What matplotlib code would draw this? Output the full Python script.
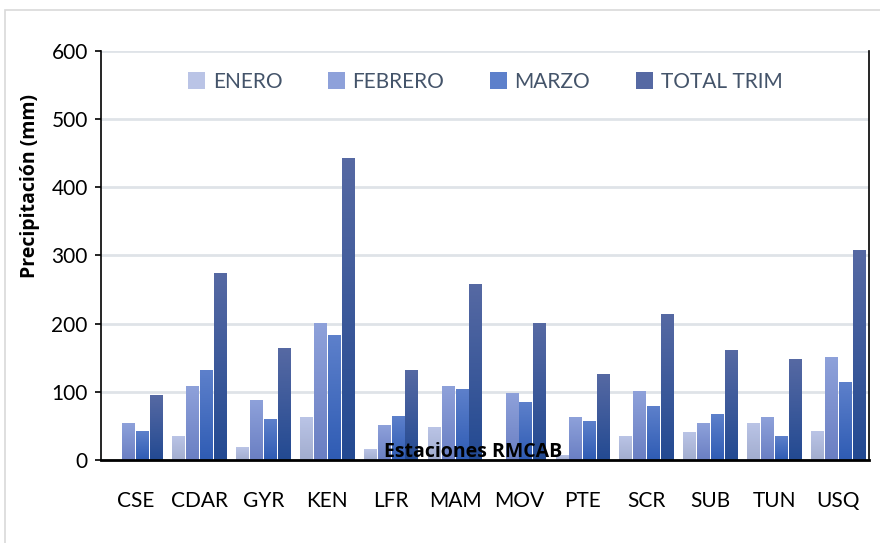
import matplotlib.pyplot as plt
import numpy as np
from matplotlib.colors import LinearSegmentedColormap
from matplotlib.patches import Rectangle

# Datos
estaciones = ['CSE', 'CDAR', 'GYR', 'KEN', 'LFR', 'MAM', 'MOV', 'PTE', 'SCR', 'SUB', 'TUN', 'USQ']
enero = [0, 34, 18, 63, 16, 47, 0, 6, 35, 41, 53, 42]
febrero = [53, 108, 88, 200, 51, 108, 98, 62, 100, 54, 63, 151]
marzo = [42, 131, 59, 182, 64, 103, 85, 57, 78, 67, 34, 113]
total_trim = [95, 273, 163, 443, 132, 257, 200, 126, 213, 161, 148, 308]

series = [('ENERO', enero), ('FEBRERO', febrero), ('MARZO', marzo), ('TOTAL TRIM', total_trim)]

# colores (arriba, abajo) del degradado
colores = [('#BAC4E6', '#A2ADCF'),
           ('#8EA1DA', '#6A7FC3'),
           ('#5D80CB', '#2F5CB4'),
           ('#5669A3', '#234A92')]

plt.rcParams['font.family'] = ['Lato', 'DejaVu Sans']

fig = plt.figure(figsize=(8.8, 5.43), dpi=100)
ax = fig.add_axes([101 / 880, 1 - 460 / 543, 768 / 880, 409 / 543])

# borde exterior gris
fig.patches.append(Rectangle((5 / 880, -0.1), 1.0, 1 - 10 / 543 + 0.1, transform=fig.transFigure,
                             fill=False, edgecolor='#D9D9D9', linewidth=1.2))

x = np.arange(len(estaciones))
ancho = 0.2
paso = 0.217

grad = np.linspace(0, 1, 100).reshape(-1, 1)
for i, (nombre, valores) in enumerate(series):
    top, bottom = colores[i]
    cmap = LinearSegmentedColormap.from_list(nombre, [bottom, top])
    barras = ax.bar(x + (i - 1.5) * paso, valores, ancho, color=top, label=nombre, zorder=2)
    for b in barras:
        if b.get_height() <= 0:
            continue
        ax.imshow(grad, cmap=cmap, origin='lower', aspect='auto', zorder=2.1,
                  extent=[b.get_x(), b.get_x() + b.get_width(), 0, b.get_height()])

ax.set_xlim(-0.54, len(estaciones) - 0.52)
ax.set_ylim(0, 600)
ax.set_yticks(range(0, 601, 100))
ax.set_xticks(x)
ax.set_xticklabels(estaciones)
ax.tick_params(axis='x', length=0, pad=22, labelsize=15)
ax.tick_params(axis='y', length=4.5, width=1.2, direction='out', labelsize=15, pad=5)
ax.grid(axis='y', color='#DFE3E8', linewidth=2, zorder=0)
ax.set_axisbelow(True)

ax.spines['top'].set_visible(False)
ax.spines['left'].set_linewidth(1.2)
ax.spines['right'].set_linewidth(1.2)
ax.spines['bottom'].set_linewidth(2)

ax.set_ylabel('Precipitación (mm)', fontsize=14, fontweight='bold', family=['Open Sans', 'DejaVu Sans'])
ax.yaxis.set_label_coords(-0.08, 0.67)
ax.text(0.485, 0.02, 'Estaciones RMCAB', transform=ax.transAxes, ha='center', va='center',
        fontsize=14, fontweight='bold', family=['Open Sans', 'DejaVu Sans'], zorder=5)

ax.legend(loc='upper center', bbox_to_anchor=(0.5, 0.995), ncol=4, frameon=False,
          fontsize=15, labelcolor='#44546A', handlelength=0.85, handleheight=0.85,
          handletextpad=0.35, columnspacing=2.17)

plt.savefig('out.png', dpi=100)
